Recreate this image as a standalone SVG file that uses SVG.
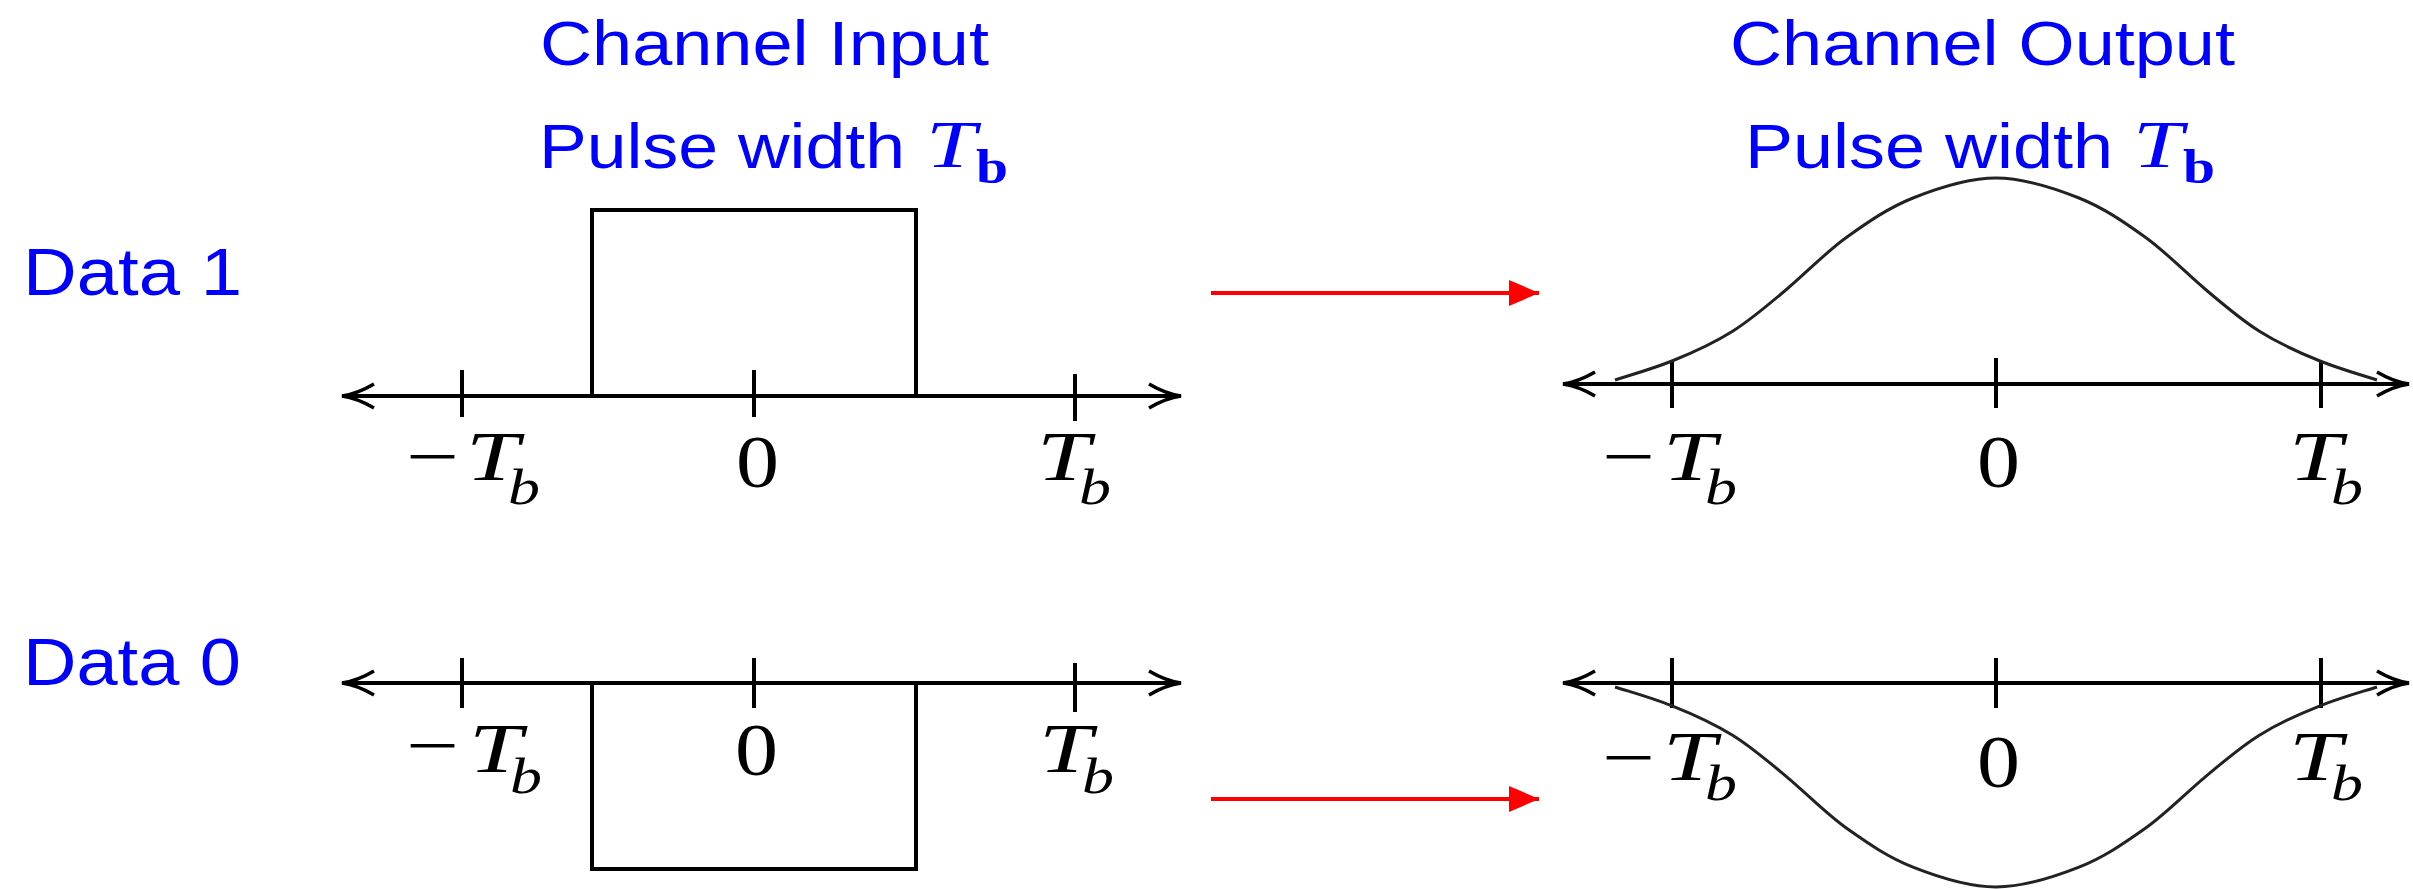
<svg xmlns="http://www.w3.org/2000/svg" width="2413" height="889" viewBox="0 0 2413 889">
<style>
.ttl{font-family:"Liberation Sans",Arial,sans-serif;font-size:63px;fill:#0000FF}
.dl{font-family:"Liberation Sans",Arial,sans-serif;font-size:66px;fill:#0000FF}
.tm{font-family:"Liberation Serif","Times New Roman",serif;font-style:italic;fill:#0000FF}
.tb{font-family:"Liberation Serif","Times New Roman",serif;font-weight:bold;fill:#0000FF}
.ax{stroke:#000;stroke-width:4;fill:none;marker-start:url(#ah);marker-end:url(#ah)}
.tk{stroke:#000;stroke-width:4}
.pl{stroke:#000;stroke-width:4;fill:none}
.cv{stroke:#222;stroke-width:3;fill:none}
.mt{font-family:"Liberation Serif","Times New Roman",serif;font-style:italic;fill:#000}
.mr{font-family:"Liberation Serif","Times New Roman",serif;fill:#000}
.ra{stroke:#FF0000;stroke-width:4;fill:none;marker-end:url(#rh)}
</style>
<defs>
<marker id="ah" markerUnits="userSpaceOnUse" viewBox="-36 -15 40 30" markerWidth="40" markerHeight="30" refX="0" refY="0" orient="auto-start-reverse">
<path d="M-32,-12 Q-15,-2 0,0 Q-15,2 -32,12" stroke="#000" stroke-width="3.5" fill="none"/>
</marker>
<marker id="rh" markerUnits="userSpaceOnUse" viewBox="-32 -14 34 28" markerWidth="34" markerHeight="28" refX="0" refY="0" orient="auto">
<path d="M-30,-13 L0,0 L-30,13 Z" fill="#FF0000"/>
</marker>
</defs>

<g id="title-input">
<text class="ttl" x="540" y="65" textLength="449" lengthAdjust="spacingAndGlyphs">Channel Input</text>
<text class="ttl" x="539" y="168" textLength="366" lengthAdjust="spacingAndGlyphs">Pulse width</text>
<text class="tm" x="926" y="167" font-size="68" textLength="50" lengthAdjust="spacingAndGlyphs">T</text>
<text class="tb" x="976" y="183" font-size="49" textLength="32" lengthAdjust="spacingAndGlyphs">b</text>
</g>

<g id="title-output">
<text class="ttl" x="1730" y="65" textLength="505" lengthAdjust="spacingAndGlyphs">Channel Output</text>
<text class="ttl" x="1745" y="168" textLength="368" lengthAdjust="spacingAndGlyphs">Pulse width</text>
<text class="tm" x="2133" y="167" font-size="68" textLength="50" lengthAdjust="spacingAndGlyphs">T</text>
<text class="tb" x="2183" y="183" font-size="49" textLength="32" lengthAdjust="spacingAndGlyphs">b</text>
</g>

<g id="label-data1">
<text class="dl" x="23" y="295" textLength="219" lengthAdjust="spacingAndGlyphs">Data 1</text>
</g>
<g id="label-data0">
<text class="dl" x="23" y="685" textLength="218" lengthAdjust="spacingAndGlyphs">Data 0</text>
</g>

<g id="input-data1">
<line class="ax" x1="342" y1="396" x2="1181" y2="396"/>
<line class="tk" x1="462" y1="370" x2="462" y2="417"/>
<line class="tk" x1="754" y1="370" x2="754" y2="417"/>
<line class="tk" x1="1075" y1="374" x2="1075" y2="421"/>
<polyline class="pl" points="592,396 592,210 916,210 916,396"/>
<text class="mr" x="406" y="480" font-size="70" textLength="53" lengthAdjust="spacingAndGlyphs">−</text>
<text class="mt" x="466" y="480" font-size="70" textLength="53" lengthAdjust="spacingAndGlyphs">T</text>
<text class="mt" x="508" y="504" font-size="50" textLength="32" lengthAdjust="spacingAndGlyphs">b</text>
<text class="mr" x="736" y="487" font-size="74" textLength="43" lengthAdjust="spacingAndGlyphs">0</text>
<text class="mt" x="1037" y="480" font-size="70" textLength="53" lengthAdjust="spacingAndGlyphs">T</text>
<text class="mt" x="1079" y="504" font-size="50" textLength="32" lengthAdjust="spacingAndGlyphs">b</text>
</g>

<g id="input-data0">
<line class="ax" x1="342" y1="683" x2="1181" y2="683"/>
<line class="tk" x1="462" y1="658" x2="462" y2="708"/>
<line class="tk" x1="754" y1="658" x2="754" y2="708"/>
<line class="tk" x1="1075" y1="663" x2="1075" y2="712"/>
<polyline class="pl" points="592,683 592,869 916,869 916,683"/>
<text class="mr" x="406" y="769" font-size="70" textLength="53" lengthAdjust="spacingAndGlyphs">−</text>
<text class="mt" x="469" y="772" font-size="70" textLength="53" lengthAdjust="spacingAndGlyphs">T</text>
<text class="mt" x="510" y="793" font-size="50" textLength="32" lengthAdjust="spacingAndGlyphs">b</text>
<text class="mr" x="735" y="775" font-size="74" textLength="43" lengthAdjust="spacingAndGlyphs">0</text>
<text class="mt" x="1039" y="772" font-size="70" textLength="53" lengthAdjust="spacingAndGlyphs">T</text>
<text class="mt" x="1082" y="793" font-size="50" textLength="32" lengthAdjust="spacingAndGlyphs">b</text>
</g>

<g id="output-data1">
<line class="ax" x1="1563" y1="384" x2="2409" y2="384"/>
<line class="tk" x1="1672" y1="360" x2="1672" y2="408"/>
<line class="tk" x1="1996" y1="358" x2="1996" y2="408"/>
<line class="tk" x1="2321" y1="362" x2="2321" y2="408"/>
<path id="pulse" class="cv" d="M1615,380 C1634,374 1652,369 1672,361 C1692,353 1714,343 1733,331 C1752,319 1768,305 1787,289 C1806,273 1826,252 1847,237 C1868,222 1888,208 1913,198 C1938,188 1968,178 1996,178 C2024,178 2054,188 2079,198 C2104,208 2124,222 2145,237 C2166,252 2186,273 2205,289 C2224,305 2240,319 2259,331 C2278,343 2300,353 2320,361 C2340,369 2358,374 2377,380"/>
<text class="mr" x="1602" y="480" font-size="70" textLength="53" lengthAdjust="spacingAndGlyphs">−</text>
<text class="mt" x="1663" y="480" font-size="70" textLength="53" lengthAdjust="spacingAndGlyphs">T</text>
<text class="mt" x="1705" y="504" font-size="50" textLength="32" lengthAdjust="spacingAndGlyphs">b</text>
<text class="mr" x="1977" y="487" font-size="74" textLength="43" lengthAdjust="spacingAndGlyphs">0</text>
<text class="mt" x="2289" y="480" font-size="70" textLength="53" lengthAdjust="spacingAndGlyphs">T</text>
<text class="mt" x="2331" y="504" font-size="50" textLength="32" lengthAdjust="spacingAndGlyphs">b</text>
</g>

<g id="output-data0">
<line class="ax" x1="1563" y1="683" x2="2409" y2="683"/>
<line class="tk" x1="1672" y1="658" x2="1672" y2="708"/>
<line class="tk" x1="1996" y1="658" x2="1996" y2="708"/>
<line class="tk" x1="2321" y1="658" x2="2321" y2="708"/>
<path class="cv" transform="matrix(1 0 0 -0.99 0 1063.16)" d="M1615,380 C1634,374 1652,369 1672,361 C1692,353 1714,343 1733,331 C1752,319 1768,305 1787,289 C1806,273 1826,252 1847,237 C1868,222 1888,208 1913,198 C1938,188 1968,178 1996,178 C2024,178 2054,188 2079,198 C2104,208 2124,222 2145,237 C2166,252 2186,273 2205,289 C2224,305 2240,319 2259,331 C2278,343 2300,353 2320,361 C2340,369 2358,374 2377,380"/>
<text class="mr" x="1602" y="781" font-size="70" textLength="53" lengthAdjust="spacingAndGlyphs">−</text>
<text class="mt" x="1663" y="780" font-size="70" textLength="53" lengthAdjust="spacingAndGlyphs">T</text>
<text class="mt" x="1705" y="800" font-size="50" textLength="32" lengthAdjust="spacingAndGlyphs">b</text>
<text class="mr" x="1977" y="787" font-size="74" textLength="43" lengthAdjust="spacingAndGlyphs">0</text>
<text class="mt" x="2289" y="780" font-size="70" textLength="53" lengthAdjust="spacingAndGlyphs">T</text>
<text class="mt" x="2331" y="800" font-size="50" textLength="32" lengthAdjust="spacingAndGlyphs">b</text>
</g>

<g id="connectors">
<line class="ra" x1="1211" y1="293" x2="1539" y2="293"/>
<line class="ra" x1="1211" y1="799" x2="1539" y2="799"/>
</g>
</svg>
